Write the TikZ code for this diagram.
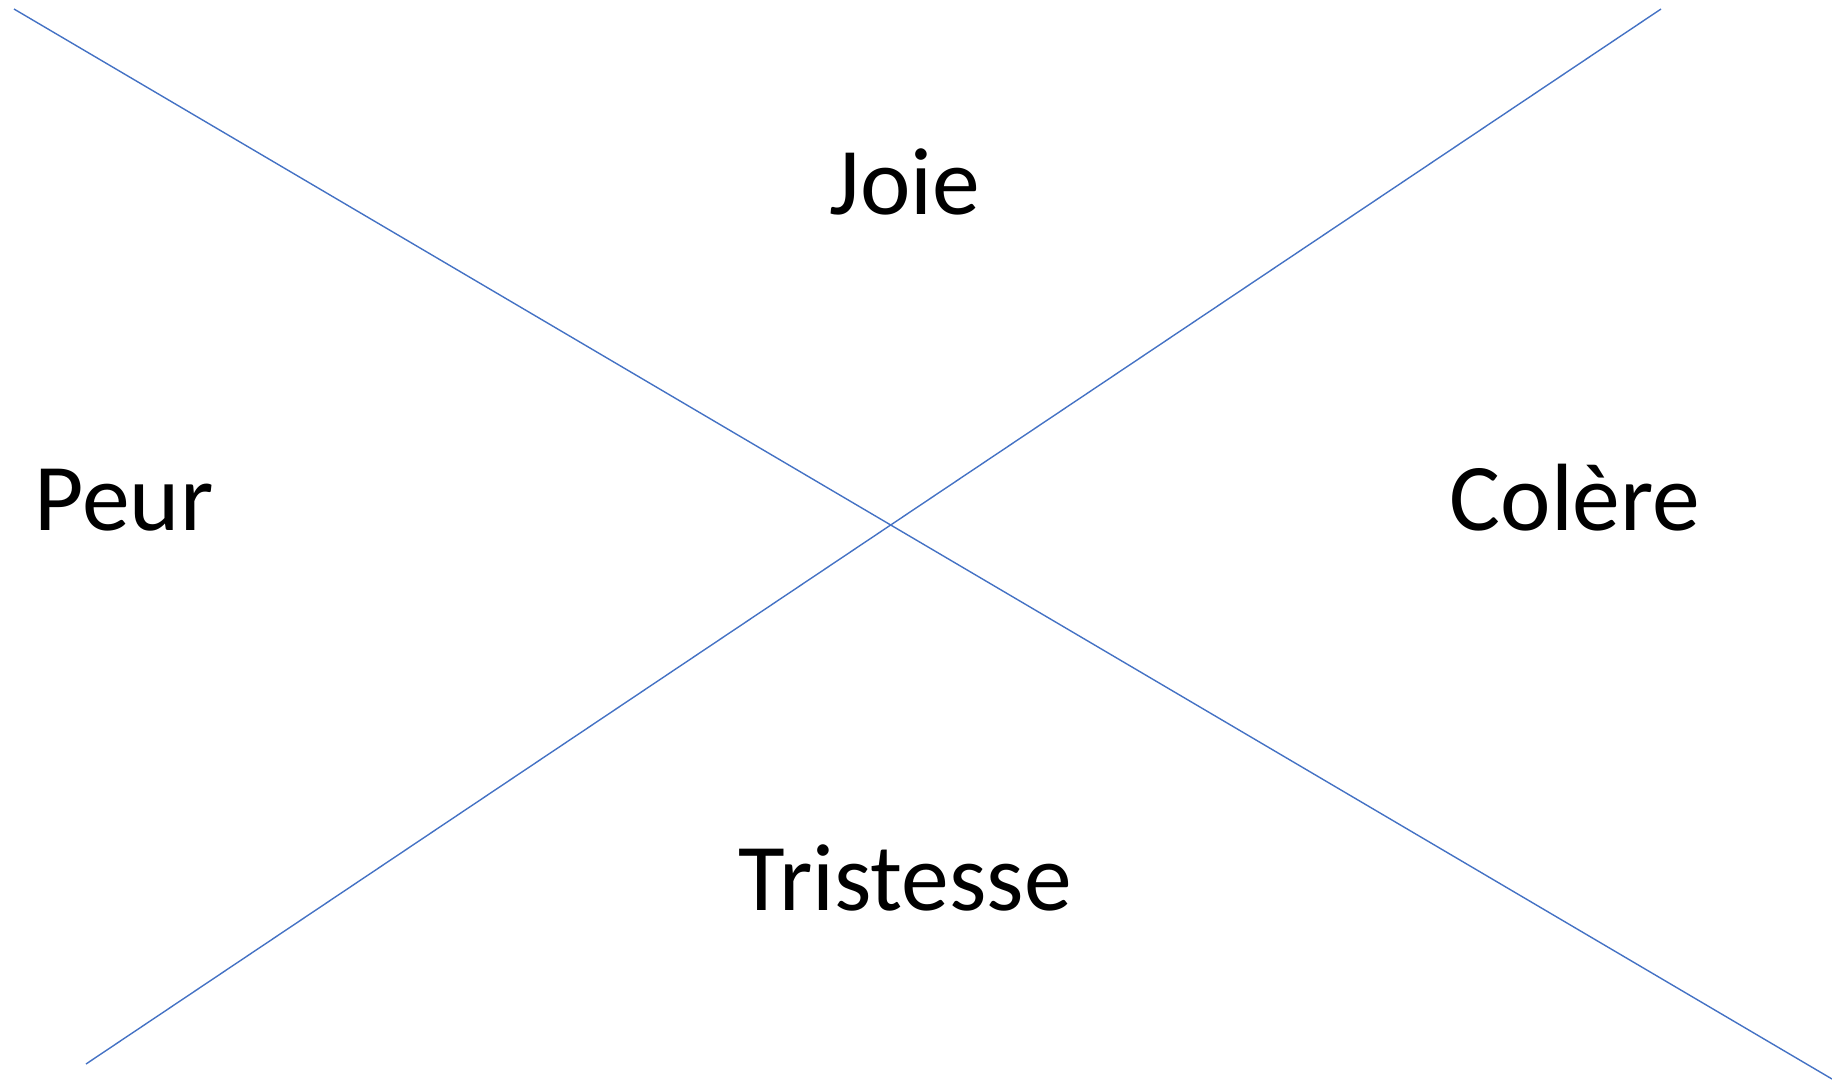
\documentclass[tikz,border=0pt]{standalone}
\usepackage{fontspec}
\setmainfont{Carlito}
\definecolor{lineblue}{HTML}{4472C4}
\begin{document}
\begin{tikzpicture}[x=0.5pt,y=-0.5pt,
  divider/.style={draw=lineblue,line width=0.7pt},
  emotion/.style={anchor=base,inner sep=0pt,font=\fontsize{47.8}{57}\selectfont}]
\useasboundingbox (0,0) rectangle (1832,1083);
\coordinate (tl) at (14,9);
\coordinate (br) at (1832,1079);
\coordinate (tr) at (1661,9);
\coordinate (bl) at (86,1064);
\draw[divider] (tl) -- (br);
\draw[divider] (tr) -- (bl);
\node[emotion] (joie) at (905,214) {Joie};
\node[emotion] (peur) at (124,530) {Peur};
\node[emotion] (colere) at (1575,530) {Colère};
\node[emotion] (tristesse) at (905,910) {Tristesse};
\end{tikzpicture}
\end{document}
